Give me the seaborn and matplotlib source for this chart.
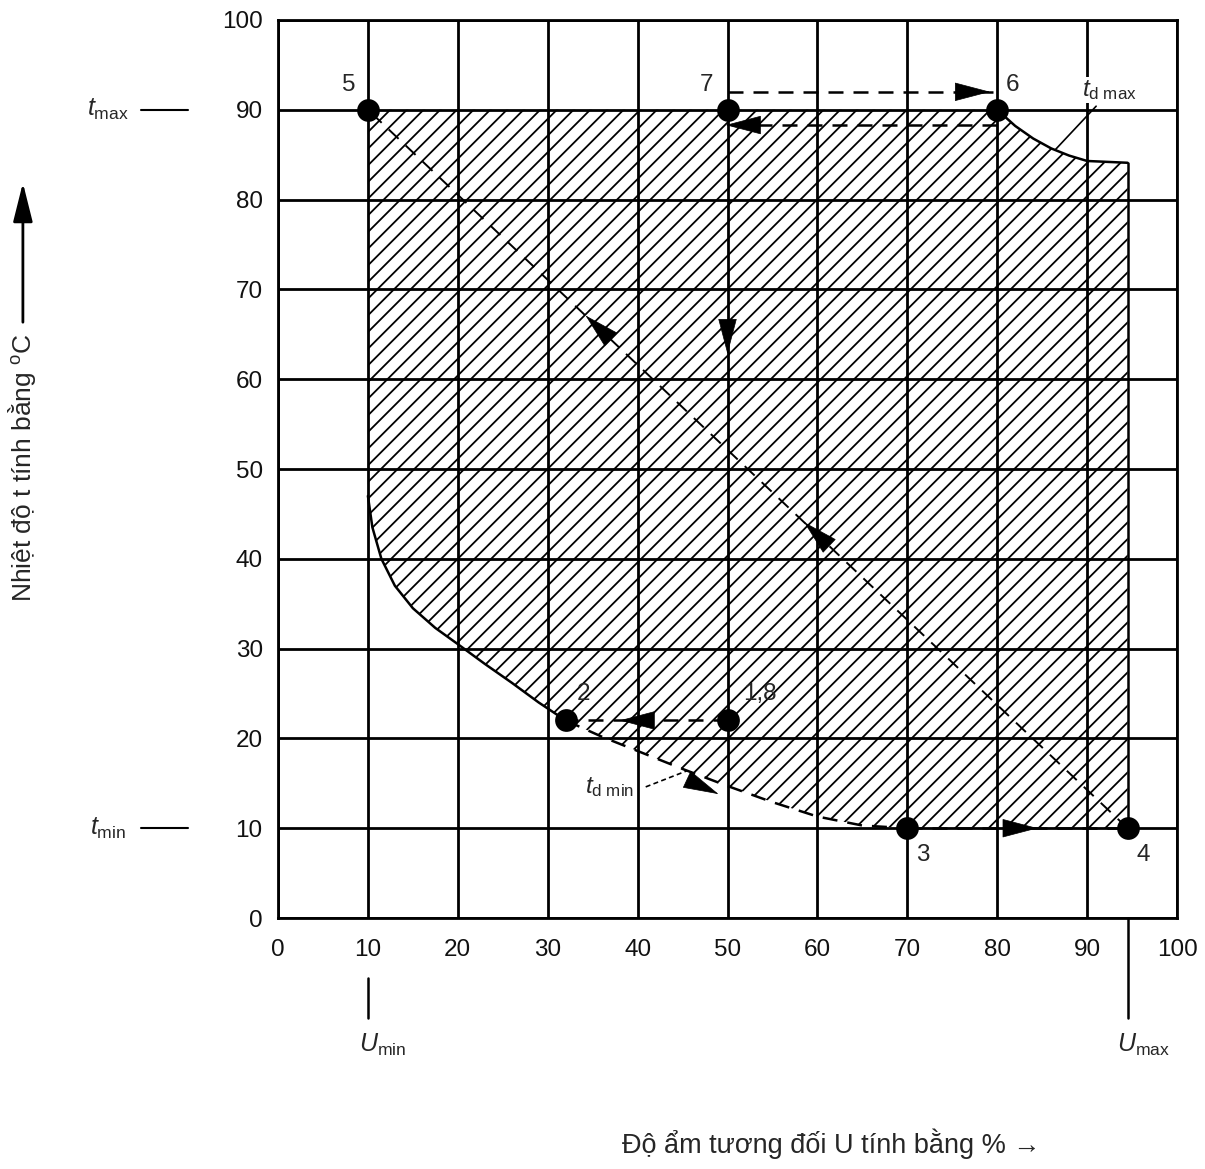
import numpy as np
import pandas as pd
import matplotlib
matplotlib.use('Agg')
import matplotlib.pyplot as plt
from matplotlib.patches import Polygon
import seaborn as sns

# limits of the test region
U_min, U_max = 10, 94.5
t_min, t_max = 10, 90

# upper right boundary (td max curve)
td_max_u = [80, 82, 84, 86, 88, 90, 94.5]
td_max_t = [90, 88.2, 86.8, 85.7, 84.9, 84.3, 84.1]

# lower left boundary, solid part (U min down to point 2)
low_u = [10, 10.5, 11.5, 13, 15, 17.5, 20, 23, 26, 29, 32]
low_t = [47, 43.5, 40, 37, 34.5, 32.3, 30.5, 28.3, 26.2, 24, 22]

# td min curve, dashed part (point 2 to point 3)
td_min_u = [32, 36, 40, 45, 50, 55, 60, 65, 70]
td_min_t = [22, 20.2, 18.6, 16.6, 14.7, 12.9, 11.3, 10.3, 10]

# cycle points
pts_u = [50, 32, 70, 94.5, 10, 80, 50]
pts_t = [22, 22, 10, 10, 90, 90, 90]
pts_lab = ['1,8', '2', '3', '4', '5', '6', '7']

# arrow heads: tip position and direction (deg)
arr_u = [79.2, 49.8, 50, 38.0, 49.0, 84.5, 34.2, 58.5]
arr_t = [92, 88.3, 62.8, 22, 13.8, 10, 67.1, 44.1]
arr_ang = [0, 180, -90, 180, -25, 0, 136.6, 136.6]

ticks = list(range(0, 101, 10))

sns.set_style('white')
plt.rcParams['font.family'] = ['Liberation Sans', 'DejaVu Sans']
plt.rcParams['mathtext.fontset'] = 'custom'
plt.rcParams['mathtext.rm'] = 'Liberation Sans'
plt.rcParams['mathtext.it'] = 'Liberation Sans:italic'
plt.rcParams['hatch.linewidth'] = 1.3

fig = plt.figure(figsize=(12.05, 11.69), dpi=100)
ax = fig.add_axes([0.2307, 0.2147, 0.7461, 0.7682])
ax.set_xlim(0, 100)
ax.set_ylim(0, 100)
ax.set_xticks(ticks)
ax.set_yticks(ticks)
ax.grid(True, color='k', lw=2)
ax.set_axisbelow(True)
for s in ax.spines.values():
    s.set_linewidth(2)
    s.set_color('k')
ax.tick_params(length=0, labelsize=17.5, colors='#111111')
ax.tick_params(axis='x', pad=15)
ax.tick_params(axis='y', pad=11)

# hatched region
poly_u = [U_min] + td_max_u + [U_max] + td_min_u[::-1] + low_u[::-1]
poly_t = [t_max] + td_max_t + [t_min] + td_min_t[::-1] + low_t[::-1]
ax.add_patch(Polygon(np.column_stack([poly_u, poly_t]), closed=True, fill=False,
                     hatch='//', edgecolor='k', lw=0, zorder=2))

solid = dict(color='k', lw=1.8, sort=False, estimator=None, ax=ax, zorder=3)
dash = dict(color='k', lw=1.8, sort=False, estimator=None, ax=ax, zorder=3,
            linestyle=(0, (6, 4)))
sns.lineplot(x=td_max_u, y=td_max_t, **solid)
sns.lineplot(x=[U_max, U_max], y=[td_max_t[-1], t_min], **solid)
sns.lineplot(x=low_u, y=low_t, **solid)
sns.lineplot(x=td_min_u, y=td_min_t, **dash)
sns.lineplot(x=[td_min_u[-1], U_max], y=[t_min, t_min], **dash)
sns.lineplot(x=[U_max, U_min], y=[t_min, t_max], color='k', lw=1.4, sort=False,
             estimator=None, ax=ax, zorder=3, linestyle=(0, (7, 5)))
# 7 -> 6 and back
sns.lineplot(x=[pts_u[6], pts_u[5]], y=[t_max + 2, t_max + 2], **dash)
sns.lineplot(x=[pts_u[5], pts_u[6]], y=[t_max - 1.7, t_max - 1.7], **dash)
# 1,8 -> 2
sns.lineplot(x=[pts_u[0], pts_u[1]], y=[pts_t[0], pts_t[1]], **dash)

# U max line down below the axis
ax.plot([U_max, U_max], [0, -11.1], color='k', lw=1.8, clip_on=False)
ax.plot([U_min, U_min], [-6.7, -11.1], color='k', lw=1.8, clip_on=False)

sns.scatterplot(x=pts_u, y=pts_t, s=230, color='k', edgecolor='k', ax=ax,
                zorder=5, legend=False)
offs = {'1,8': (23, 19), '2': (13, 19), '3': (11, -19), '4': (11, -19),
        '5': (-14, 18), '6': (11, 18), '7': (-15, 18)}
for u, t, lab in zip(pts_u, pts_t, pts_lab):
    ax.annotate(lab, (u, t), xytext=offs[lab], textcoords='offset points',
                ha='center', va='center', fontsize=17.5, zorder=6)

# arrow heads
L = 3.7
for u, t, a in zip(arr_u, arr_t, arr_ang):
    r = np.deg2rad(a)
    ax.annotate('', xy=(u, t), xytext=(u - L * np.cos(r), t - L * np.sin(r)),
                arrowprops=dict(arrowstyle='-|>,head_length=1.6,head_width=0.42',
                                mutation_scale=15, fc='k', ec='k', lw=0.5,
                                shrinkA=0, shrinkB=0), zorder=6)

# dew point labels
ax.plot([91, 86.5], [90.4, 85.6], color='k', lw=1.2, zorder=4)
ax.text(89.4, 92.2, r'$t_{\mathrm{d\ max}}$', fontsize=17.5, va='center', ha='left',
        bbox=dict(fc='white', ec='none', pad=1), zorder=6)
ax.plot([40.9, 45.5], [14.6, 16.4], color='k', lw=1.2, ls=(0, (3, 2)), zorder=4)
ax.text(34.2, 14.6, r'$t_{\mathrm{d\ min}}$', fontsize=17.5, va='center', ha='left',
        bbox=dict(fc='white', ec='none', pad=1), zorder=6)

# t max / t min markers on the left
yt = ax.get_yaxis_transform()
for val, lab in [(t_max, r'$t_{\mathrm{max}}$'), (t_min, r'$t_{\mathrm{min}}$')]:
    ax.text(-0.189, val, lab, transform=yt, fontsize=18, ha='center', va='center')
    ax.plot([-0.152, -0.1], [val, val], transform=yt, color='k', lw=1.5, clip_on=False)

# U min / U max labels below
xt = ax.get_xaxis_transform()
ax.text(U_min - 1, -0.141, r'$U_{\mathrm{min}}$', transform=xt, fontsize=18,
        ha='left', va='center')
ax.text(U_max - 1.2, -0.141, r'$U_{\mathrm{max}}$', transform=xt, fontsize=18,
        ha='left', va='center')

# axis titles
fig.text(0.018, 0.6, 'Nhiệt độ t tính bằng $^{\\mathrm{o}}$C', rotation=90,
         ha='center', va='center', fontsize=19)
fig.add_artist(matplotlib.patches.FancyArrowPatch(
    (0.019, 0.722), (0.019, 0.846), transform=fig.transFigure,
    arrowstyle='-|>,head_length=1.6,head_width=0.4', mutation_scale=15,
    fc='k', ec='k', lw=2))
fig.text(0.69, 0.022, 'Độ ẩm tương đối U tính bằng % →', ha='center', va='center',
         fontsize=19.5)

fig.savefig('out.png', dpi=100)
